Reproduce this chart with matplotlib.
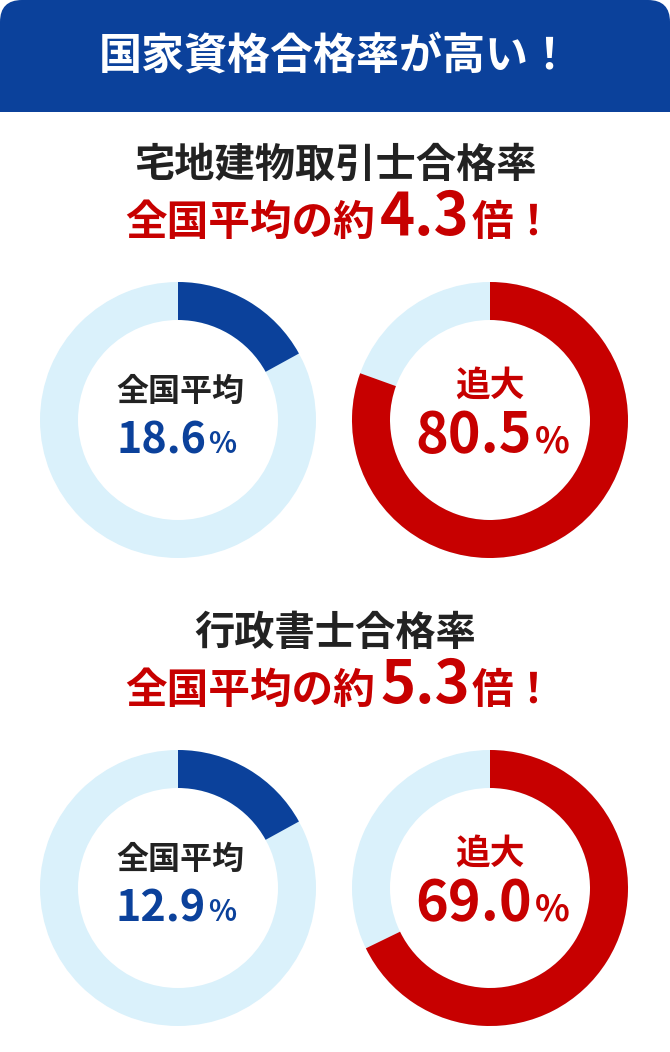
import matplotlib
matplotlib.use("Agg")
import matplotlib.pyplot as plt
from matplotlib.patches import Wedge, FancyBboxPatch, Rectangle

plt.rcParams["font.family"] = ["Noto Sans CJK JP", "DejaVu Sans"]

BLUE = "#0b419b"
RED = "#c70000"
LIGHT = "#daf1fb"
DARK = "#222222"

# データ
header = "国家資格合格率が高い！"
sections = ["宅地建物取引士合格率", "行政書士合格率"]
ratios = ["4.3", "5.3"]
avg_labels = ["18.6", "12.9"]
our_labels = ["80.5", "69.0"]
# 図から読み取った円弧の割合 (%)
avg_arc = [17.0, 17.0]
our_arc = [80.5, 67.8]

fig = plt.figure(figsize=(6.7, 10.52), dpi=100)
ax = fig.add_axes([0, 0, 1, 1])
ax.set_xlim(0, 670)
ax.set_ylim(1052, 0)
ax.set_aspect("equal")
ax.axis("off")

# ヘッダー
ax.add_patch(FancyBboxPatch((0, 0), 670, 140, boxstyle="round,pad=0,rounding_size=22",
                            fc=BLUE, ec="none"))
ax.add_patch(Rectangle((0, 60), 670, 52, fc=BLUE, ec="none"))
ax.add_patch(Rectangle((0, 112), 670, 60, fc="white", ec="none"))
ax.text(335, 56, header, color="white", fontsize=31, fontweight="bold", ha="center", va="center")


def donut(cx, cy, share, color):
    ax.add_patch(Wedge((cx, cy), 138, -90, 270, width=38, fc=LIGHT, ec="none"))
    # 12時方向から時計回り (y軸反転のため角度は増加方向)
    ax.add_patch(Wedge((cx, cy), 138, -90, -90 + share * 3.6, width=38, fc=color, ec="none"))


for i, y0 in enumerate([165, 633]):
    ax.text(335, y0, sections[i], color=DARK, fontsize=29, fontweight="bold", ha="center", va="center")
    ax.text(375, y0 + 58, "全国平均の約", color=RED, fontsize=30, fontweight="bold", ha="right", va="center")
    ax.text(380, y0 + 53, ratios[i], color=RED, fontsize=43, fontweight="bold", ha="left", va="center")
    ax.text(472, y0 + 58, "倍！", color=RED, fontsize=30, fontweight="bold", ha="left", va="center")

    cy = y0 + 255
    donut(178, cy, avg_arc[i], BLUE)
    donut(490, cy, our_arc[i], RED)

    ax.text(180, cy - 28, "全国平均", color=DARK, fontsize=23, fontweight="bold", ha="center", va="center")
    ax.text(206, cy + 20, avg_labels[i], color=BLUE, fontsize=31, fontweight="bold", ha="right", va="center")
    ax.text(208, cy + 24, "%", color=BLUE, fontsize=21, fontweight="bold", ha="left", va="center")

    ax.text(490, cy - 35, "追大", color=RED, fontsize=25, fontweight="bold", ha="center", va="center")
    ax.text(532, cy + 16, our_labels[i], color=RED, fontsize=40, fontweight="bold", ha="right", va="center")
    ax.text(535, cy + 22, "%", color=RED, fontsize=26, fontweight="bold", ha="left", va="center")

fig.savefig("out.png", dpi=100, facecolor="white")
